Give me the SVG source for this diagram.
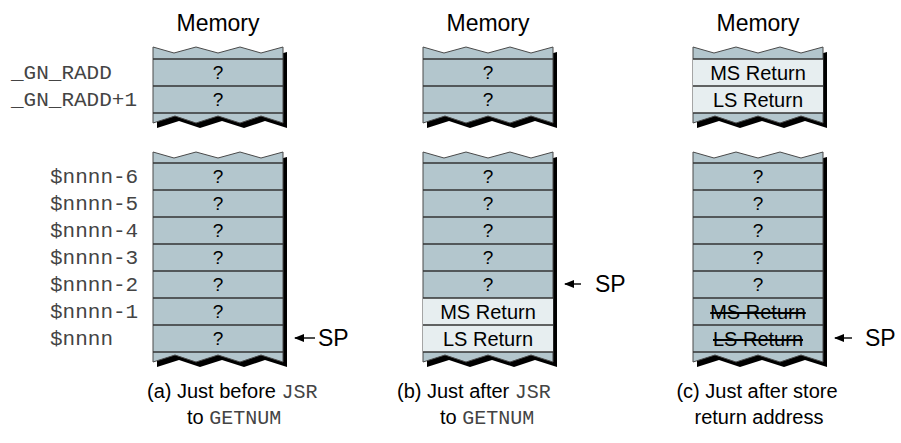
<svg xmlns="http://www.w3.org/2000/svg" width="901" height="443" viewBox="0 0 901 443">
<defs>
<style>
.sans{font-family:"Liberation Sans",Arial,sans-serif;fill:#000}
.mono{font-family:"Liberation Mono","Courier New",monospace;fill:#444}
.title{font-size:23px;text-anchor:middle}
.q{font-size:19px;text-anchor:middle}
.ret{font-size:20px;text-anchor:middle}
.strike{text-decoration:line-through}
.lab{font-size:21px}
.cap{font-size:20px}
.sp{font-size:23px}
.shadow{fill:#000}
.body{fill:#b3c6cd;stroke:#4a4a4a;stroke-width:1}
.light{fill:#e7eef0}
.sep{stroke:#333;stroke-width:1.6}
.arrow{stroke:#000;stroke-width:1.4;fill:none}
</style>
<marker id="ah" markerWidth="10" markerHeight="8" refX="9" refY="4" orient="auto" markerUnits="userSpaceOnUse">
<path d="M0,0 L10,4 L0,8 Z" fill="#000"/>
</marker>
<path id="topblk" d="M0,47 L21,53 L43,47 L65,53 L87,47 L108,53 L130,47 L130,123 L108,116 L87,123 L65,116 L43,123 L22,116 L0,123 Z"/>
<path id="lowblk" d="M0,152 L21,158 L43,152 L65,158 L87,152 L108,158 L130,152 L130,362 L108,355 L87,362 L65,355 L43,362 L22,355 L0,362 Z"/>
</defs>
<rect width="901" height="443" fill="#fff"/>

<!-- titles -->
<text class="sans title" x="218" y="31">Memory</text>
<text class="sans title" x="488" y="31">Memory</text>
<text class="sans title" x="758" y="31">Memory</text>

<!-- address labels -->
<g id="labels">
<text class="mono lab" x="11" y="79">_GN_RADD</text>
<text class="mono lab" x="11" y="106">_GN_RADD+1</text>
<text class="mono lab" x="50" y="183">$nnnn-6</text>
<text class="mono lab" x="50" y="210">$nnnn-5</text>
<text class="mono lab" x="50" y="237">$nnnn-4</text>
<text class="mono lab" x="50" y="264">$nnnn-3</text>
<text class="mono lab" x="50" y="291">$nnnn-2</text>
<text class="mono lab" x="50" y="318">$nnnn-1</text>
<text class="mono lab" x="50" y="345">$nnnn</text>
</g>

<!-- Column A -->
<g id="a-top" transform="translate(153,0)">
<use href="#topblk" class="shadow" transform="translate(4,5)"/>
<use href="#topblk" class="body"/>
<g id="a-radd"><text class="sans q" x="65" y="79">?</text></g>
<g id="a-radd1"><text class="sans q" x="65" y="106">?</text></g>
<line class="sep" x1="0" y1="59" x2="130" y2="59"/><line class="sep" x1="0" y1="86" x2="130" y2="86"/><line class="sep" x1="0" y1="113" x2="130" y2="113"/>
</g>
<g id="a-low" transform="translate(153,0)">
<use href="#lowblk" class="shadow" transform="translate(4,5)"/>
<use href="#lowblk" class="body"/>
<text class="sans q" x="65" y="183">?</text>
<text class="sans q" x="65" y="210">?</text>
<text class="sans q" x="65" y="237">?</text>
<text class="sans q" x="65" y="264">?</text>
<text class="sans q" x="65" y="291">?</text>
<text class="sans q" x="65" y="318">?</text>
<text class="sans q" x="65" y="345">?</text>
<g class="sep"><line x1="0" y1="163" x2="130" y2="163"/><line x1="0" y1="190" x2="130" y2="190"/><line x1="0" y1="217" x2="130" y2="217"/><line x1="0" y1="244" x2="130" y2="244"/><line x1="0" y1="271" x2="130" y2="271"/><line x1="0" y1="298" x2="130" y2="298"/><line x1="0" y1="325" x2="130" y2="325"/><line x1="0" y1="352" x2="130" y2="352"/></g>
</g>

<!-- Column B -->
<g id="b-top" transform="translate(423,0)">
<use href="#topblk" class="shadow" transform="translate(4,5)"/>
<use href="#topblk" class="body"/>
<text class="sans q" x="65" y="79">?</text>
<text class="sans q" x="65" y="106">?</text>
<line class="sep" x1="0" y1="59" x2="130" y2="59"/><line class="sep" x1="0" y1="86" x2="130" y2="86"/><line class="sep" x1="0" y1="113" x2="130" y2="113"/>
</g>
<g id="b-low" transform="translate(423,0)">
<use href="#lowblk" class="shadow" transform="translate(4,5)"/>
<use href="#lowblk" class="body"/>
<rect class="light" x="0" y="298" width="130" height="54"/>
<text class="sans q" x="65" y="183">?</text>
<text class="sans q" x="65" y="210">?</text>
<text class="sans q" x="65" y="237">?</text>
<text class="sans q" x="65" y="264">?</text>
<text class="sans q" x="65" y="291">?</text>
<text class="sans ret" x="65" y="319">MS Return</text>
<text class="sans ret" x="65" y="346">LS Return</text>
<g class="sep"><line x1="0" y1="163" x2="130" y2="163"/><line x1="0" y1="190" x2="130" y2="190"/><line x1="0" y1="217" x2="130" y2="217"/><line x1="0" y1="244" x2="130" y2="244"/><line x1="0" y1="271" x2="130" y2="271"/><line x1="0" y1="298" x2="130" y2="298"/><line x1="0" y1="325" x2="130" y2="325"/><line x1="0" y1="352" x2="130" y2="352"/></g>
</g>

<!-- Column C -->
<g id="c-top" transform="translate(693,0)">
<use href="#topblk" class="shadow" transform="translate(4,5)"/>
<use href="#topblk" class="body"/>
<rect class="light" x="0" y="59" width="130" height="54"/>
<text class="sans ret" x="65" y="80">MS Return</text>
<text class="sans ret" x="65" y="107">LS Return</text>
<line class="sep" x1="0" y1="59" x2="130" y2="59"/><line class="sep" x1="0" y1="86" x2="130" y2="86"/><line class="sep" x1="0" y1="113" x2="130" y2="113"/>
</g>
<g id="c-low" transform="translate(693,0)">
<use href="#lowblk" class="shadow" transform="translate(4,5)"/>
<use href="#lowblk" class="body"/>
<text class="sans q" x="65" y="183">?</text>
<text class="sans q" x="65" y="210">?</text>
<text class="sans q" x="65" y="237">?</text>
<text class="sans q" x="65" y="264">?</text>
<text class="sans q" x="65" y="291">?</text>
<text class="sans ret strike" x="65" y="319">MS Return</text>
<text class="sans ret strike" x="65" y="346">LS Return</text>
<g class="sep"><line x1="0" y1="163" x2="130" y2="163"/><line x1="0" y1="190" x2="130" y2="190"/><line x1="0" y1="217" x2="130" y2="217"/><line x1="0" y1="244" x2="130" y2="244"/><line x1="0" y1="271" x2="130" y2="271"/><line x1="0" y1="298" x2="130" y2="298"/><line x1="0" y1="325" x2="130" y2="325"/><line x1="0" y1="352" x2="130" y2="352"/></g>
</g>

<!-- SP pointers -->
<g id="connectors">
<line class="arrow" x1="315" y1="338" x2="295" y2="338" marker-end="url(#ah)"/>
<line class="arrow" x1="581" y1="284" x2="565" y2="284" marker-end="url(#ah)"/>
<line class="arrow" x1="852" y1="338" x2="835" y2="338" marker-end="url(#ah)"/>
</g>
<text class="sans sp" x="318" y="346">SP</text>
<text class="sans sp" x="595" y="292">SP</text>
<text class="sans sp" x="865" y="346">SP</text>

<!-- captions -->
<text class="sans cap" x="147" y="398">(a) Just before <tspan class="mono">JSR</tspan></text>
<text class="sans cap" x="187" y="424">to <tspan class="mono">GETNUM</tspan></text>
<text class="sans cap" x="397" y="398">(b) Just after <tspan class="mono">JSR</tspan></text>
<text class="sans cap" x="440" y="424">to <tspan class="mono">GETNUM</tspan></text>
<text class="sans cap" x="757" y="398" text-anchor="middle">(c) Just after store</text>
<text class="sans cap" x="759" y="424" text-anchor="middle">return address</text>
</svg>
